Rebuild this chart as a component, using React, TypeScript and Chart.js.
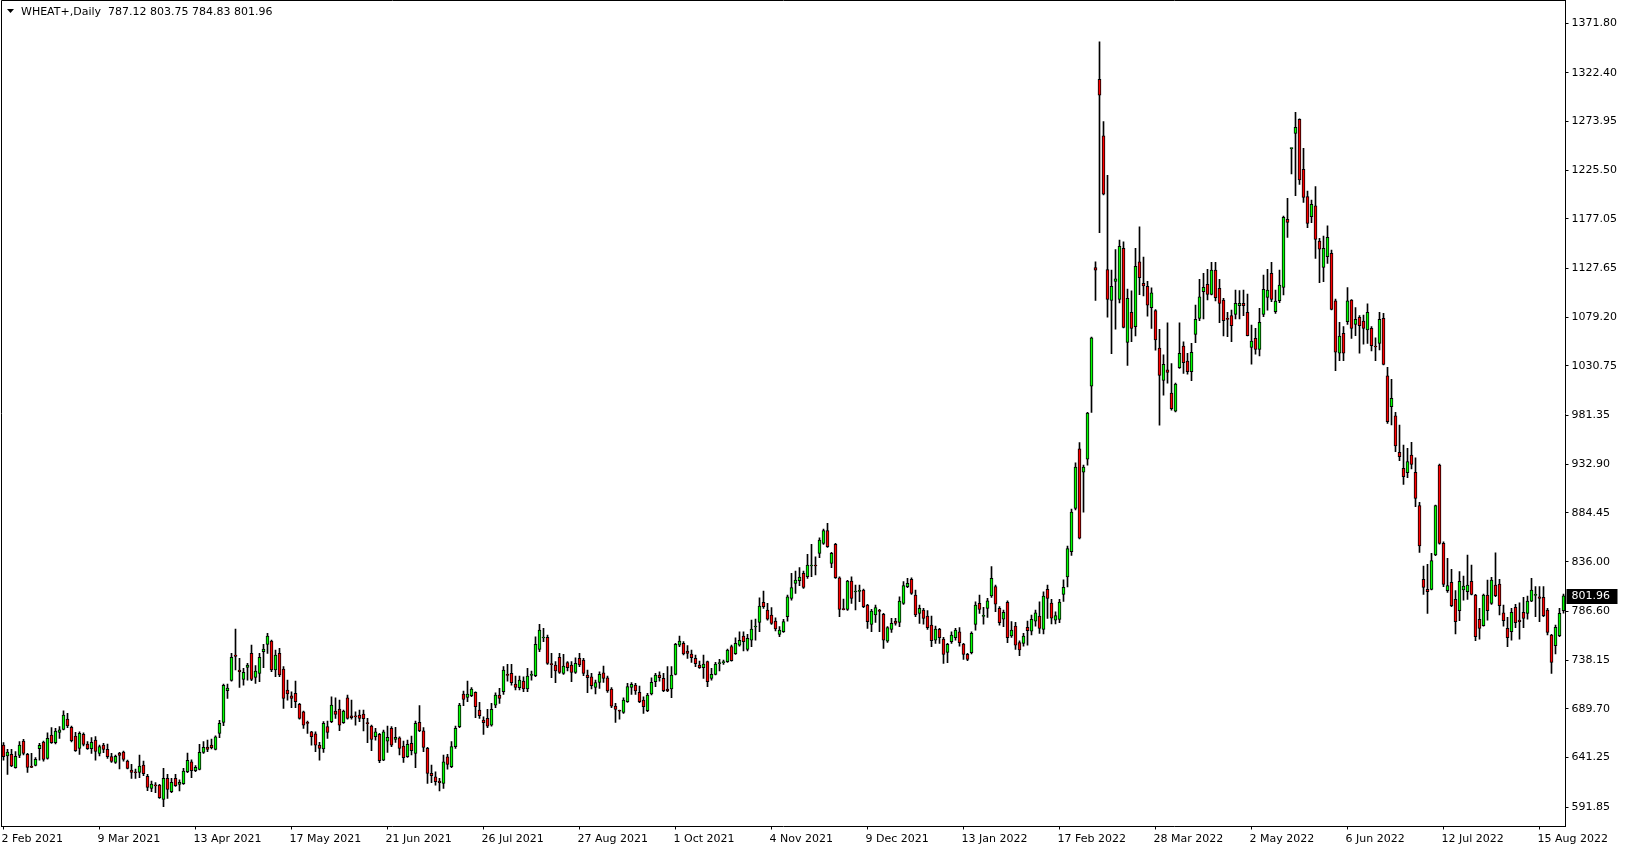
import { useEffect, useRef } from 'react';
import { Chart, registerables } from 'chart.js';

Chart.register(...registerables);

// ---- Data (WHEAT+, Daily, 2 Feb 2021 .. 23 Aug 2022) ----
const opens = [
  653.6, 642.6, 644.3, 631.0, 643.3, 657.5, 644.3, 632.3, 633.3, 649.9,
  656.6, 640.3, 663.5, 655.9, 666.2, 669.2, 679.4, 671.2, 662.5, 650.3,
  664.2, 654.6, 649.9, 658.5, 645.3, 653.6, 649.3, 642.0, 636.3, 645.6,
  646.6, 637.6, 628.7, 626.6, 626.3, 633.6, 622.4, 610.4, 613.4, 613.7,
  599.5, 620.4, 607.1, 620.4, 614.4, 615.1, 627.0, 636.9, 628.0, 629.3,
  646.2, 651.5, 653.5, 649.2, 665.1, 676.1, 707.6, 717.9, 743.1, 728.2,
  718.9, 730.8, 744.8, 720.9, 724.9, 746.4, 753.7, 757.0, 728.2, 744.8,
  729.2, 708.3, 702.6, 705.0, 694.0, 686.7, 675.6, 666.8, 664.8, 653.5,
  649.6, 671.8, 676.8, 687.4, 689.4, 675.8, 700.6, 682.7, 681.9, 683.4,
  684.4, 675.4, 672.4, 661.8, 664.1, 638.6, 657.5, 670.1, 659.2, 660.8,
  652.5, 641.9, 655.2, 645.2, 676.1, 667.8, 650.2, 625.3, 622.0, 617.7,
  615.4, 641.9, 632.0, 651.9, 671.8, 704.3, 701.0, 702.6, 705.9, 688.4,
  678.4, 680.1, 673.4, 693.3, 703.3, 706.6, 723.5, 724.9, 714.2, 710.6,
  717.2, 709.3, 722.9, 722.5, 748.7, 760.0, 760.7, 734.1, 733.2, 740.8,
  724.9, 735.5, 733.2, 725.8, 739.8, 738.1, 723.2, 721.5, 710.9, 715.9,
  725.5, 720.5, 709.3, 692.3, 687.6, 686.0, 696.7, 710.9, 713.2, 705.9,
  698.3, 687.7, 704.3, 716.6, 723.2, 719.9, 709.3, 709.3, 723.9, 753.0,
  754.7, 747.1, 744.1, 739.8, 733.2, 730.5, 736.5, 719.9, 723.9, 734.6,
  735.6, 736.5, 751.4, 744.4, 753.0, 762.0, 748.7, 758.0, 771.0, 775.6,
  795.5, 787.9, 782.9, 776.9, 763.7, 766.3, 781.2, 799.5, 814.4, 817.1,
  824.4, 821.0, 831.7, 832.3, 844.3, 854.2, 866.8, 834.3, 853.2, 820.0,
  788.8, 788.5, 816.7, 805.8, 806.5, 807.8, 792.8, 773.6, 782.9, 787.2,
  783.6, 757.0, 768.6, 776.9, 775.6, 794.5, 811.1, 818.4, 802.8, 784.5,
  787.9, 781.9, 772.9, 758.0, 768.6, 759.0, 745.7, 756.4, 760.3, 766.3,
  754.0, 743.8, 745.4, 773.6, 794.5, 781.6, 789.5, 801.8, 811.1, 789.5,
  778.9, 795.5, 762.0, 771.9, 755.4, 754.7, 770.6, 766.9, 776.9, 781.9,
  768.6, 808.4, 794.7, 777.8, 778.6, 803.3, 820.9, 845.9, 889.0, 948.2,
  925.0, 938.0, 1010.7, 1128.6, 1315.8, 1259.7, 1126.7, 1096.0, 1114.8, 1096.8,
  1147.7, 1054.1, 1084.1, 1069.8, 1134.2, 1112.9, 1109.9, 1088.6, 1085.9, 1048.5,
  1016.3, 1026.8, 1003.6, 985.6, 1029.0, 1050.5, 1035.6, 1025.0, 1062.1, 1078.0,
  1104.6, 1111.9, 1101.9, 1126.1, 1107.9, 1096.3, 1077.8, 1080.7, 1082.0, 1090.7,
  1093.0, 1084.0, 1049.2, 1058.1, 1047.2, 1082.0, 1098.9, 1122.8, 1084.7, 1095.6,
  1108.9, 1176.5, 1246.9, 1262.1, 1276.1, 1226.3, 1199.1, 1179.3, 1189.9, 1155.0,
  1128.8, 1139.5, 1142.8, 1095.4, 1043.3, 1063.2, 1074.8, 1096.3, 1072.1, 1079.1,
  1075.4, 1066.5, 1068.1, 1050.2, 1053.2, 1078.1, 1021.0, 990.2, 981.2, 944.7,
  928.8, 924.5, 942.1, 924.9, 891.7, 818.4, 808.4, 808.4, 842.6, 932.1,
  854.2, 807.1, 815.4, 798.5, 787.2, 807.8, 806.1, 816.4, 802.8, 778.6,
  772.3, 802.8, 794.5, 812.7, 813.7, 785.2, 769.6, 766.3, 790.5, 777.9,
  785.5, 784.5, 796.8, 802.5, 801.1, 800.5, 787.9, 763.0, 752.4, 762.3,
  787.12,
];

const highs = [
  655.9, 649.3, 649.3, 647.0, 656.9, 659.2, 645.3, 645.3, 641.0, 655.2,
  657.5, 665.8, 670.8, 670.2, 671.8, 687.7, 685.1, 672.5, 666.2, 666.8,
  665.8, 656.9, 660.9, 661.9, 653.6, 655.2, 654.6, 645.3, 643.6, 646.3,
  647.6, 638.6, 634.3, 629.7, 643.6, 637.6, 624.3, 617.7, 616.1, 614.4,
  630.3, 624.3, 620.4, 624.3, 619.0, 630.3, 645.6, 638.9, 633.0, 654.2,
  656.9, 658.5, 659.5, 662.8, 678.1, 714.2, 714.2, 744.8, 769.0, 739.8,
  729.8, 734.8, 753.0, 732.5, 744.8, 753.7, 764.7, 758.0, 748.1, 749.7,
  731.5, 718.2, 706.6, 717.2, 695.0, 687.4, 677.4, 667.1, 666.8, 656.2,
  676.8, 677.4, 701.6, 700.6, 698.3, 688.4, 703.3, 698.3, 686.7, 688.4,
  688.4, 680.1, 673.4, 670.1, 665.1, 668.5, 672.4, 671.8, 671.1, 661.8,
  657.5, 658.5, 662.5, 677.4, 692.7, 670.8, 651.2, 633.6, 627.0, 620.4,
  643.6, 644.3, 656.9, 672.4, 695.0, 707.3, 717.2, 710.6, 706.5, 696.0,
  681.7, 689.0, 695.0, 705.6, 709.9, 731.5, 733.8, 733.8, 722.2, 722.2,
  721.5, 729.8, 727.2, 761.3, 773.6, 769.6, 763.0, 744.8, 736.5, 744.8,
  743.8, 736.5, 736.5, 740.4, 744.8, 739.8, 728.2, 724.9, 718.2, 726.5,
  732.2, 722.2, 710.6, 695.0, 688.4, 700.6, 714.9, 715.6, 714.9, 712.2,
  701.6, 705.0, 720.5, 724.9, 726.5, 724.9, 731.5, 731.5, 754.7, 762.0,
  756.4, 752.4, 748.1, 743.1, 737.1, 743.1, 737.1, 729.8, 735.8, 738.8,
  738.1, 749.1, 753.0, 760.3, 766.3, 766.3, 763.7, 777.9, 778.9, 800.1,
  806.8, 794.5, 790.2, 780.2, 771.3, 778.6, 802.8, 824.4, 826.7, 830.0,
  826.7, 843.3, 853.2, 840.9, 859.8, 868.5, 874.1, 845.2, 854.2, 821.0,
  798.8, 817.4, 821.0, 812.7, 812.7, 808.8, 793.5, 788.5, 792.8, 788.5,
  784.5, 771.3, 779.6, 779.6, 801.1, 816.1, 819.4, 820.0, 807.8, 792.8,
  789.5, 787.2, 781.9, 771.9, 769.6, 760.7, 754.7, 766.3, 769.6, 770.3,
  754.7, 744.7, 766.3, 796.1, 802.8, 790.5, 799.5, 831.0, 812.7, 791.2,
  787.9, 797.1, 776.3, 775.6, 757.3, 764.7, 776.9, 782.9, 787.9, 796.1,
  806.1, 812.7, 798.4, 786.1, 798.4, 817.9, 851.6, 888.3, 934.3, 954.5,
  932.1, 984.5, 1059.5, 1134.2, 1353.3, 1273.9, 1220.3, 1126.0, 1146.6, 1155.9,
  1154.1, 1107.3, 1105.4, 1147.7, 1169.1, 1139.1, 1114.8, 1108.4, 1086.7, 1067.2,
  1041.8, 1073.6, 1033.1, 1013.7, 1073.7, 1054.8, 1043.2, 1053.2, 1091.3, 1116.8,
  1122.8, 1126.8, 1133.8, 1133.8, 1116.8, 1097.9, 1084.0, 1086.3, 1106.2, 1105.6,
  1106.2, 1102.3, 1071.4, 1068.1, 1088.0, 1121.2, 1126.8, 1133.8, 1106.2, 1126.1,
  1179.9, 1197.4, 1247.5, 1283.0, 1276.6, 1247.2, 1204.7, 1195.8, 1209.1, 1157.7,
  1160.0, 1170.0, 1146.1, 1097.3, 1074.1, 1069.8, 1108.6, 1096.8, 1088.7, 1080.8,
  1081.4, 1092.4, 1069.8, 1058.8, 1084.1, 1083.1, 1029.3, 1017.4, 984.5, 972.0,
  952.0, 948.7, 954.7, 939.4, 895.0, 831.6, 833.3, 844.3, 892.3, 933.1,
  855.8, 839.3, 828.3, 807.1, 826.0, 821.7, 842.6, 832.6, 803.4, 789.5,
  803.8, 817.7, 820.4, 844.9, 818.4, 792.8, 780.6, 789.5, 793.5, 795.1,
  800.5, 801.8, 819.4, 811.1, 811.1, 811.1, 789.5, 763.6, 772.9, 789.5,
  803.75,
];

const lows = [
  638.6, 624.4, 632.0, 630.6, 641.0, 643.6, 626.4, 631.0, 632.7, 638.6,
  637.6, 639.6, 655.2, 654.6, 660.2, 668.5, 670.8, 656.6, 647.3, 644.3,
  652.6, 649.3, 645.3, 638.6, 642.6, 645.9, 640.3, 636.3, 635.3, 629.7,
  637.6, 629.7, 620.4, 620.4, 621.0, 623.0, 608.1, 607.1, 606.1, 600.5,
  592.2, 600.5, 606.1, 612.4, 607.8, 614.4, 626.0, 621.0, 627.0, 628.7,
  645.2, 646.9, 649.6, 648.6, 660.8, 672.8, 700.0, 717.2, 728.2, 710.9,
  713.2, 718.2, 717.6, 714.9, 716.6, 730.5, 744.8, 726.5, 721.5, 721.5,
  690.0, 698.3, 690.7, 690.7, 679.4, 670.1, 665.1, 653.5, 646.9, 638.6,
  646.2, 660.2, 675.8, 680.1, 667.8, 675.1, 679.4, 679.4, 673.4, 676.8,
  667.5, 655.9, 647.9, 658.5, 635.9, 637.9, 646.2, 651.9, 656.2, 643.6,
  636.3, 641.3, 643.6, 631.0, 666.8, 646.9, 615.4, 616.1, 613.7, 607.8,
  610.4, 629.6, 631.0, 650.2, 670.8, 692.7, 696.7, 701.6, 680.7, 680.1,
  664.1, 670.8, 672.4, 690.7, 695.0, 704.0, 717.2, 713.2, 708.3, 708.3,
  706.6, 706.6, 718.2, 721.5, 746.4, 756.4, 733.8, 720.5, 715.6, 724.9,
  723.9, 727.2, 716.6, 724.9, 731.5, 722.5, 705.6, 709.3, 704.3, 709.9,
  715.9, 705.9, 690.7, 676.1, 679.4, 685.0, 696.0, 704.0, 704.0, 695.7,
  685.0, 686.7, 703.3, 711.6, 717.2, 706.6, 706.6, 700.6, 723.2, 751.4,
  743.1, 739.8, 735.8, 731.5, 729.8, 719.9, 711.6, 718.2, 723.2, 727.2,
  733.8, 735.8, 737.1, 743.8, 752.0, 747.1, 747.1, 751.4, 758.0, 766.3,
  789.5, 777.9, 773.6, 767.0, 761.3, 765.7, 776.9, 797.8, 804.4, 812.1,
  809.4, 819.4, 821.0, 822.7, 839.9, 853.2, 850.2, 830.0, 819.4, 781.2,
  787.9, 787.5, 794.5, 787.9, 796.2, 790.2, 769.6, 766.3, 775.6, 766.3,
  749.7, 755.7, 765.7, 772.9, 771.3, 793.5, 810.1, 803.5, 781.2, 774.6,
  773.9, 768.6, 751.4, 754.7, 754.7, 734.8, 735.5, 754.7, 758.0, 752.0,
  738.8, 737.5, 744.1, 767.9, 784.5, 773.9, 780.6, 800.5, 786.2, 772.9,
  771.3, 755.4, 760.7, 748.7, 742.4, 752.0, 753.0, 763.0, 771.9, 764.7,
  764.0, 779.6, 774.1, 774.1, 775.2, 796.5, 810.8, 842.2, 887.5, 858.5,
  885.3, 932.1, 984.5, 1096.0, 1163.4, 1200.9, 1079.2, 1042.9, 1067.2, 1093.4,
  1068.5, 1031.3, 1054.9, 1060.5, 1101.7, 1100.5, 1080.3, 1068.0, 1046.3, 971.7,
  1001.7, 1013.7, 986.7, 984.9, 1028.3, 1023.3, 1022.6, 1016.0, 1053.8, 1075.7,
  1077.4, 1096.3, 1101.3, 1095.3, 1073.7, 1060.5, 1059.8, 1054.8, 1077.4, 1077.4,
  1080.7, 1060.5, 1032.6, 1042.5, 1040.6, 1079.7, 1086.3, 1094.6, 1083.0, 1093.6,
  1101.3, 1158.6, 1221.7, 1200.1, 1211.4, 1193.5, 1168.3, 1173.3, 1137.8, 1113.6,
  1114.6, 1132.8, 1086.5, 1026.0, 1036.0, 1036.0, 1072.1, 1058.2, 1060.9, 1043.3,
  1052.5, 1053.2, 1045.6, 1036.0, 1046.6, 1031.8, 973.6, 972.0, 945.4, 936.5,
  912.9, 919.5, 928.2, 890.7, 845.2, 803.5, 784.5, 807.8, 841.9, 853.5,
  811.1, 805.4, 791.2, 764.0, 777.2, 797.8, 798.5, 802.8, 757.3, 759.0,
  771.9, 777.9, 793.5, 801.1, 782.9, 771.9, 751.4, 758.0, 770.3, 759.0,
  770.3, 778.9, 796.1, 781.2, 776.2, 781.2, 763.0, 724.8, 744.1, 761.3,
  784.83,
];

const closes = [
  642.0, 646.6, 632.7, 642.3, 653.6, 645.3, 631.3, 631.3, 639.3, 653.2,
  639.3, 660.2, 655.9, 667.5, 668.8, 683.4, 672.5, 657.9, 647.9, 665.2,
  654.2, 649.9, 656.2, 647.3, 651.9, 649.3, 642.0, 637.3, 642.3, 643.3,
  639.3, 630.3, 626.3, 626.0, 632.6, 625.0, 611.4, 614.7, 612.9, 601.1,
  620.4, 609.4, 616.4, 613.1, 616.4, 627.6, 638.3, 628.0, 631.3, 646.2,
  651.2, 649.2, 650.9, 661.8, 675.1, 712.9, 710.3, 740.8, 741.8, 726.5,
  725.8, 733.2, 718.9, 727.2, 740.8, 749.1, 762.0, 728.2, 743.1, 723.2,
  700.0, 704.3, 700.0, 696.7, 680.1, 673.4, 675.1, 661.8, 653.5, 650.2,
  675.1, 666.1, 693.3, 684.1, 673.4, 687.4, 680.1, 680.7, 681.5, 680.1,
  679.7, 674.8, 659.2, 666.8, 637.9, 666.8, 661.2, 653.5, 661.2, 650.2,
  640.9, 654.2, 647.9, 675.1, 667.8, 651.2, 625.3, 623.0, 617.1, 616.1,
  636.9, 634.3, 651.9, 670.1, 693.3, 699.0, 704.3, 709.3, 691.7, 682.7,
  675.8, 672.4, 689.0, 703.3, 700.0, 728.2, 722.9, 715.6, 710.9, 718.2,
  709.3, 722.2, 723.5, 753.7, 768.0, 760.6, 734.8, 733.5, 727.2, 725.8,
  732.2, 730.5, 725.8, 734.8, 733.2, 724.9, 720.5, 712.6, 715.6, 723.9,
  719.9, 707.3, 692.3, 689.0, 687.2, 698.3, 711.6, 713.9, 707.3, 696.7,
  691.7, 703.3, 715.9, 723.2, 720.5, 707.6, 707.3, 723.2, 753.7, 757.0,
  744.1, 744.8, 740.4, 734.5, 730.5, 734.1, 716.6, 723.9, 734.1, 735.0,
  736.0, 748.1, 737.5, 754.7, 757.7, 756.4, 759.7, 769.0, 771.6, 791.9,
  791.2, 778.9, 774.6, 769.0, 768.0, 776.3, 801.1, 810.1, 817.7, 820.7,
  810.4, 832.6, 832.3, 831.7, 857.5, 866.8, 850.9, 844.3, 820.0, 788.5,
  788.2, 816.7, 799.5, 806.4, 807.1, 791.2, 776.3, 786.9, 790.2, 786.6,
  758.0, 770.3, 774.6, 774.6, 796.8, 812.1, 814.4, 804.4, 782.9, 789.5,
  779.6, 770.3, 757.3, 768.9, 760.3, 743.8, 753.7, 763.0, 767.9, 755.4,
  743.8, 738.8, 764.7, 792.8, 788.5, 782.2, 797.1, 819.4, 793.8, 775.3,
  785.5, 760.3, 767.9, 753.0, 748.1, 762.0, 767.3, 778.6, 785.2, 769.6,
  801.8, 799.5, 779.7, 782.3, 795.8, 810.4, 848.9, 885.3, 930.2, 859.4,
  930.2, 983.7, 1058.6, 1126.0, 1300.1, 1201.6, 1096.8, 1109.9, 1117.4, 1149.6,
  1069.1, 1097.9, 1068.0, 1129.7, 1118.5, 1110.3, 1091.2, 1103.5, 1056.7, 1021.2,
  1032.4, 1024.2, 988.2, 1012.6, 1043.2, 1033.9, 1025.0, 1044.2, 1077.0, 1099.6,
  1108.9, 1101.9, 1126.1, 1098.6, 1093.0, 1075.7, 1077.0, 1070.8, 1093.0, 1093.0,
  1090.7, 1060.8, 1055.5, 1047.2, 1074.1, 1106.9, 1106.2, 1096.9, 1095.3, 1111.2,
  1178.5, 1173.6, 1247.2, 1268.1, 1215.7, 1198.4, 1172.6, 1191.5, 1156.7, 1146.8,
  1147.7, 1158.7, 1087.0, 1044.3, 1060.5, 1043.3, 1095.4, 1068.1, 1077.1, 1070.8,
  1068.1, 1084.1, 1050.9, 1049.6, 1077.1, 1032.3, 975.3, 998.5, 951.1, 940.4,
  920.5, 935.5, 932.8, 899.0, 851.6, 810.4, 806.1, 837.0, 891.7, 854.2,
  813.4, 812.1, 792.2, 776.2, 816.4, 811.7, 812.7, 803.4, 761.3, 769.6,
  802.8, 787.2, 817.7, 802.1, 792.2, 777.2, 760.3, 785.5, 775.2, 776.2,
  779.6, 796.8, 807.8, 803.1, 799.5, 782.2, 765.6, 735.8, 770.6, 784.5,
  801.96,
];

const xTickLabels = [
  '2 Feb 2021', '9 Mar 2021', '13 Apr 2021', '17 May 2021', '21 Jun 2021',
  '26 Jul 2021', '27 Aug 2021', '1 Oct 2021', '4 Nov 2021', '9 Dec 2021',
  '13 Jan 2022', '17 Feb 2022', '28 Mar 2022', '2 May 2022', '6 Jun 2022',
  '12 Jul 2022', '15 Aug 2022',
];
const barsPerXTick = 24;

const yTickValues = [
  1371.8, 1322.4, 1273.95, 1225.5, 1177.05, 1127.65, 1079.2, 1030.75,
  981.35, 932.9, 884.45, 836.0, 786.6, 738.15, 689.7, 641.25, 591.85,
];

const symbolTitle = 'WHEAT+,Daily';

const BULL = '#00FF00';
const BEAR = '#FF0000';
const FONT = '"DejaVu Sans", Verdana, sans-serif';

export default function App() {
  const ref = useRef<HTMLCanvasElement | null>(null);

  useEffect(() => {
    const canvas = ref.current;
    if (!canvas) return;
    const labels = closes.map((_, i) => String(i));
    const bodyData = opens.map((o, i) => [o, closes[i]]);
    const wickData = lows.map((l, i) => [
      Math.min(l, opens[i], closes[i]),
      Math.max(highs[i], opens[i], closes[i]),
    ]);
    const bodyColors = opens.map((o, i) =>
      closes[i] > o ? BULL : closes[i] < o ? BEAR : '#000000'
    );
    const last = closes.length - 1;

    const overlay = {
      id: 'mt4Overlay',
      afterDraw(chart: any) {
        const ctx = chart.ctx as CanvasRenderingContext2D;
        const area = chart.chartArea;
        ctx.save();
        // frame (left & top)
        ctx.strokeStyle = '#000';
        ctx.lineWidth = 1;
        ctx.beginPath();
        ctx.moveTo(1.5, area.bottom);
        ctx.lineTo(1.5, 0.5);
        ctx.lineTo(area.right, 0.5);
        ctx.stroke();
        // title
        ctx.fillStyle = '#000';
        ctx.beginPath();
        ctx.moveTo(7, 9);
        ctx.lineTo(14, 9);
        ctx.lineTo(10.5, 13);
        ctx.closePath();
        ctx.fill();
        ctx.font = '11px ' + FONT;
        ctx.textBaseline = 'middle';
        ctx.textAlign = 'left';
        const q = [opens[last], highs[last], lows[last], closes[last]]
          .map((v) => v.toFixed(2))
          .join(' ');
        ctx.fillText(symbolTitle + '  ' + q, 21, 12.5);
        // current price label
        const y = chart.scales.y.getPixelForValue(closes[last]);
        ctx.fillStyle = '#000';
        ctx.fillRect(area.right + 1, Math.round(y) - 7, 51, 15);
        ctx.fillStyle = '#fff';
        ctx.fillText(closes[last].toFixed(2), area.right + 6, Math.round(y) + 0.5);
        ctx.restore();
      },
    };

    const chart = new Chart(canvas, {
      type: 'bar',
      data: {
        labels,
        datasets: [
          {
            data: bodyData as any,
            backgroundColor: bodyColors,
            borderColor: '#000000',
            borderWidth: 1,
            borderSkipped: false,
            barThickness: 3,
            grouped: false,
            minBarLength: 1,
            order: 0,
          } as any,
          {
            data: wickData as any,
            backgroundColor: '#000000',
            borderWidth: 0,
            barThickness: 1,
            grouped: false,
            order: 1,
          } as any,
        ],
      },
      options: {
        responsive: false,
        animation: false,
        events: [],
        layout: { padding: { left: 1.5, top: 0.5, right: 0, bottom: 0 } },
        plugins: {
          legend: { display: false },
          tooltip: { enabled: false },
          title: { display: false },
        },
        scales: {
          x: {
            type: 'category',
            offset: true,
            grid: {
              display: true,
              drawOnChartArea: false,
              offset: false,
              tickLength: 3,
              color: '#000',
            },
            border: { display: true, color: '#000' },
            ticks: {
              autoSkip: false,
              maxRotation: 0,
              minRotation: 0,
              align: 'start',
              labelOffset: -2,
              padding: 3,
              color: '#000',
              font: { family: FONT, size: 11 },
              callback: (v: any) => {
                const k = Number(v) / barsPerXTick;
                return Number.isInteger(k) && xTickLabels[k] ? xTickLabels[k] : '';
              },
            },
            afterBuildTicks: (s: any) => {
              s.ticks = xTickLabels.map((_, k) => ({ value: k * barsPerXTick }));
            },
            afterFit: (s: any) => {
              s.height = 23.5;
              s.paddingLeft = 0;
              s.paddingRight = 0;
              s.paddingTop = 0;
              s.paddingBottom = 0;
            },
          },
          y: {
            type: 'linear',
            position: 'right',
            min: 572.5,
            max: 1394.3,
            grid: { display: true, drawOnChartArea: false, tickLength: 3, color: '#000' },
            border: { display: true, color: '#000' },
            ticks: {
              padding: 3,
              color: '#000',
              font: { family: FONT, size: 11 },
              callback: (v: any) => Number(v).toFixed(2),
            },
            afterBuildTicks: (s: any) => {
              s.ticks = yTickValues.map((v) => ({ value: v }));
            },
            afterFit: (s: any) => {
              s.width = 63.5;
              s.paddingTop = 0;
              s.paddingBottom = 0;
              s.paddingLeft = 0;
              s.paddingRight = 0;
            },
          },
        },
      } as any,
      plugins: [overlay],
    });
    return () => chart.destroy();
  }, []);

  return (
    <div
      style={{
        position: 'fixed',
        left: 0,
        top: 0,
        width: 1629,
        height: 850,
        background: '#ffffff',
      }}
    >
      <canvas ref={ref} width={1629} height={850} style={{ display: 'block' }} />
    </div>
  );
}
